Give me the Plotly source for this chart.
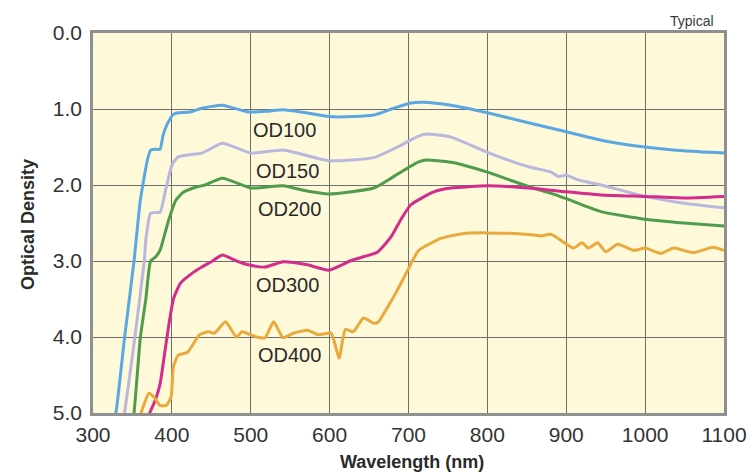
import plotly.graph_objects as go

# ---- data (wavelength in nm, optical density) ----
wl_od100 = [326, 329, 340, 352, 360, 369, 373, 379, 385, 389, 395, 402, 408, 423, 438, 464, 497, 520, 541, 570, 599, 630, 656, 681, 703, 719, 754, 800, 852, 900, 944, 1000, 1049, 1100]
od_od100 = [5.1, 5.0, 4.01, 3.0, 2.2, 1.67, 1.54, 1.53, 1.53, 1.34, 1.18, 1.07, 1.05, 1.04, 0.99, 0.95, 1.04, 1.03, 1.01, 1.05, 1.10, 1.10, 1.08, 0.99, 0.92, 0.91, 0.95, 1.05, 1.18, 1.30, 1.41, 1.50, 1.55, 1.58]

wl_od150 = [338, 340, 353, 365, 367, 373, 379, 385, 392, 400, 408, 438, 446, 464, 501, 541, 599, 656, 686, 712, 722, 754, 800, 852, 881, 890, 900, 914, 944, 1000, 1049, 1100]
od_od150 = [5.1, 5.0, 4.01, 3.0, 2.72, 2.37, 2.36, 2.36, 2.07, 1.74, 1.63, 1.58, 1.54, 1.45, 1.58, 1.54, 1.68, 1.64, 1.50, 1.36, 1.33, 1.37, 1.57, 1.76, 1.83, 1.89, 1.87, 1.93, 2.00, 2.15, 2.24, 2.30]

wl_od200 = [350, 352, 360, 367, 373, 379, 385, 389, 396, 405, 414, 430, 442, 464, 501, 541, 567, 599, 656, 681, 712, 722, 754, 800, 852, 881, 900, 944, 1000, 1049, 1100]
od_od200 = [5.1, 5.0, 4.01, 3.5, 3.0, 2.95, 2.86, 2.72, 2.46, 2.20, 2.10, 2.03, 2.00, 1.91, 2.04, 2.01, 2.07, 2.12, 2.04, 1.89, 1.70, 1.67, 1.70, 1.83, 2.02, 2.11, 2.18, 2.35, 2.45, 2.50, 2.54]

wl_od300 = [370, 372, 379, 385, 391, 396, 402, 411, 426, 438, 450, 464, 482, 497, 518, 541, 572, 599, 628, 661, 678, 690, 703, 732, 754, 800, 852, 900, 944, 1000, 1049, 1100]
od_od300 = [5.1, 5.0, 4.83, 4.62, 4.20, 3.85, 3.50, 3.29, 3.16, 3.08, 3.01, 2.92, 3.00, 3.05, 3.08, 3.01, 3.05, 3.12, 2.99, 2.88, 2.68, 2.46, 2.26, 2.09, 2.04, 2.01, 2.04, 2.09, 2.13, 2.15, 2.17, 2.15]

wl_od400 = [359, 361, 371, 378, 385, 393, 399, 402, 408, 420, 435, 446, 454, 468, 482, 489, 507, 518, 529, 541, 554, 572, 586, 602, 612, 620, 630, 643, 656, 662, 674, 686, 699, 713, 742, 768, 800, 852, 868, 881, 909, 920, 928, 940, 950, 965, 986, 1000, 1020, 1036, 1061, 1086, 1100]
od_od400 = [5.1, 5.0, 4.74, 4.80, 4.90, 4.90, 4.79, 4.39, 4.24, 4.20, 3.97, 3.93, 3.95, 3.80, 4.00, 3.93, 4.00, 4.01, 3.80, 4.01, 3.95, 3.91, 3.97, 3.95, 4.28, 3.90, 3.93, 3.75, 3.82, 3.80, 3.60, 3.38, 3.12, 2.86, 2.70, 2.64, 2.63, 2.65, 2.67, 2.65, 2.83, 2.76, 2.83, 2.76, 2.88, 2.78, 2.86, 2.83, 2.90, 2.83, 2.89, 2.82, 2.86]

series_names = ["OD100", "OD150", "OD200", "OD300", "OD400"]
series_colors = ["#5aa7e2", "#bab7de", "#4f9d4c", "#d42c8c", "#eaa93c"]
label_x = [543, 546, 549, 547, 549]
label_y = [1.28, 1.82, 2.32, 3.32, 4.24]

x_ticks = [300, 400, 500, 600, 700, 800, 900, 1000, 1100]
y_ticks = [0, 1, 2, 3, 4, 5]
y_tick_text = ["0.0", "1.0", "2.0", "3.0", "4.0", "5.0"]

FONT = "Liberation Sans, Arial, Helvetica, sans-serif"

wls = [wl_od100, wl_od150, wl_od200, wl_od300, wl_od400]
ods = [od_od100, od_od150, od_od200, od_od300, od_od400]

fig = go.Figure()
for name, color, xs, ys in zip(series_names, series_colors, wls, ods):
    fig.add_trace(go.Scatter(
        x=xs, y=ys, mode="lines", name=name,
        line=dict(color=color, width=3, shape="spline", smoothing=0.5),
        hoverinfo="x+y+name",
    ))

for name, lx, ly in zip(series_names, label_x, label_y):
    fig.add_annotation(x=lx, y=ly, text=name, showarrow=False,
                       font=dict(family=FONT, size=20, color="#2a2a2a"),
                       xanchor="center", yanchor="middle")

# axis titles and note
fig.add_annotation(xref="paper", yref="paper", x=0.506, y=-0.129, text="<b>Wavelength (nm)</b>",
                   showarrow=False, font=dict(family=FONT, size=18, color="#2a2a2a"),
                   xanchor="center", yanchor="middle")
fig.add_annotation(xref="paper", yref="paper", x=-0.103, y=0.495, text="<b>Optical Density</b>",
                   showarrow=False, textangle=-90, font=dict(family=FONT, size=18, color="#2a2a2a"),
                   xanchor="center", yanchor="middle")
fig.add_annotation(xref="paper", yref="paper", x=0.949, y=1.032, text="Typical",
                   showarrow=False, font=dict(family=FONT, size=14, color="#3a3a3a"),
                   xanchor="center", yanchor="middle")

fig.update_layout(
    width=750, height=473,
    margin=dict(l=93, r=26, t=33, b=60, autoexpand=False),
    paper_bgcolor="white",
    plot_bgcolor="#fdf9d9",
    showlegend=False,
    font=dict(family=FONT, color="#333333"),
)
fig.update_xaxes(
    range=[300, 1100], tickvals=x_ticks, ticks="",
    tickfont=dict(family=FONT, size=21, color="#333333"),
    showgrid=True, gridcolor="#6e6e6e", gridwidth=1.3,
    showline=True, linecolor="#8f8f8f", linewidth=2.5, mirror=True,
    zeroline=False, ticklabelstandoff=1, automargin=False,
)
fig.update_yaxes(
    range=[5, 0], tickvals=y_ticks, ticktext=y_tick_text, ticks="",
    tickfont=dict(family=FONT, size=21, color="#333333"),
    showgrid=True, gridcolor="#6e6e6e", gridwidth=1.3,
    showline=True, linecolor="#8f8f8f", linewidth=2.5, mirror=True,
    zeroline=False, ticklabelstandoff=4, automargin=False,
)

fig.write_html("out.html", config={"displayModeBar": False},
               post_script="document.body.style.margin='0px';")
